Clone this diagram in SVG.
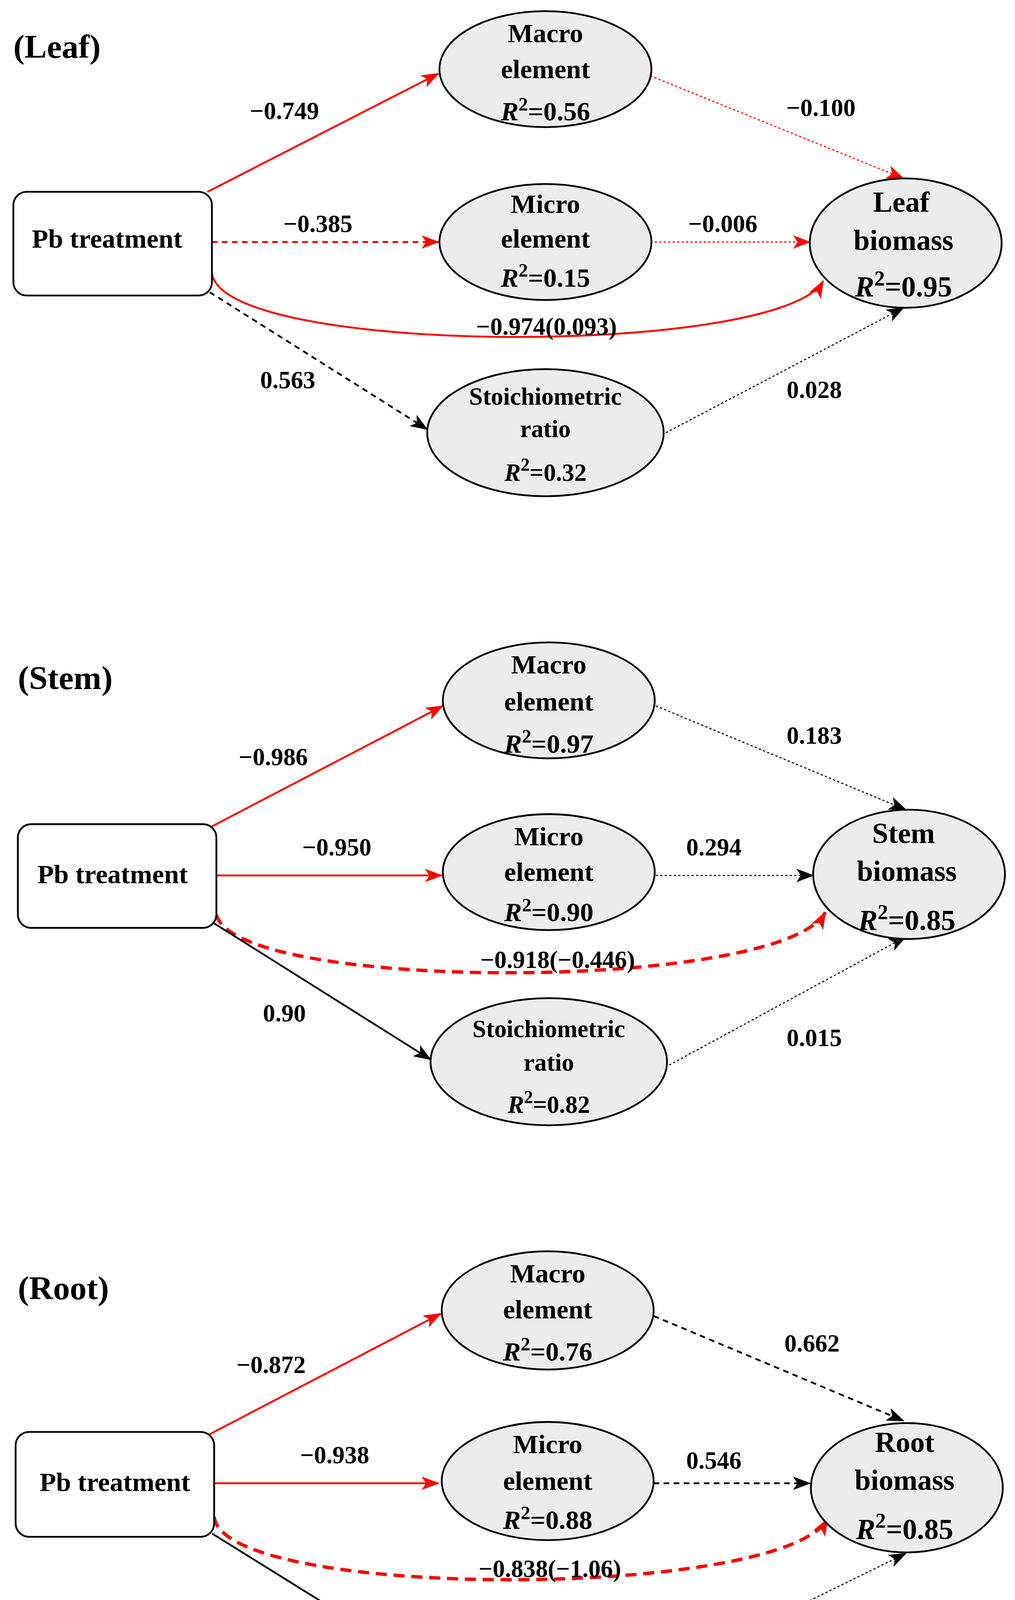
<svg xmlns="http://www.w3.org/2000/svg" width="2598" height="4483" viewBox="0 0 2598 4483">
<style>
text{font-family:"Liberation Serif","Times New Roman",serif;font-weight:bold;fill:#000;text-anchor:middle}
.n{font-size:24px}.b{font-size:26px}.s{font-size:22px}.l{font-size:22px}.p{font-size:30px;text-anchor:start}
.el{fill:#ececec;stroke:#000;stroke-width:1.6}
.bx{fill:#fff;stroke:#000;stroke-width:1.6}
.r{stroke:#f00;fill:none;stroke-width:1.7}
.k{stroke:#000;fill:none;stroke-width:1.6}
.ds{stroke-dasharray:5 4}.dt{stroke-dasharray:2 2;stroke-width:1}.th{stroke-width:3;stroke-dasharray:10 6}
</style>
<defs>
<marker id="ar" viewBox="0 0 16 12" refX="15" refY="6" markerWidth="16" markerHeight="12" markerUnits="userSpaceOnUse" orient="auto"><path d="M0,0 L16,6 L0,12 L4,6 Z" fill="#f00"/></marker>
<marker id="ak" viewBox="0 0 16 12" refX="15" refY="6" markerWidth="16" markerHeight="12" markerUnits="userSpaceOnUse" orient="auto"><path d="M0,0 L16,6 L0,12 L4,6 Z" fill="#000"/></marker>
</defs>
<rect width="2598" height="4483" fill="#fff"/>
<g transform="scale(2.855)">
<text class="p" x="12" y="52">(Leaf)</text>
<g id="connectors-leaf">
<path class="r" d="M186,172 L393,66" marker-end="url(#ar)"/>
<path class="r ds" d="M190,217 L393,217" marker-end="url(#ar)"/>
<path class="r" d="M190,245 C200,320 700,320 738,252" marker-end="url(#ar)"/>
<path class="k ds" d="M188,262 L383,385" marker-end="url(#ak)"/>
<path class="r dt" d="M583,68 L810,160" marker-end="url(#ar)"/>
<path class="r dt" d="M583,217 L726,217" marker-end="url(#ar)"/>
<path class="k dt" d="M597,388 L810,276" marker-end="url(#ak)"/>
<text class="l" x="255" y="107">−0.749</text>
<text class="l" x="285" y="208">−0.385</text>
<text class="l" x="490" y="300">−0.974(0.093)</text>
<text class="l" x="258" y="348">0.563</text>
<text class="l" x="736" y="104">−0.100</text>
<text class="l" x="648" y="208">−0.006</text>
<text class="l" x="730" y="357">0.028</text>
</g>
<g id="leaf-pb"><rect class="bx" x="12" y="172" width="178" height="93" rx="12"/><text class="n" x="96" y="222">Pb treatment</text></g>
<g id="leaf-macro"><ellipse class="el" cx="489" cy="62" rx="95" ry="52"/><text class="n" x="489" y="38">Macro</text><text class="n" x="489" y="70">element</text><text class="n" x="489" y="108"><tspan font-style="italic">R</tspan><tspan dy="-9" font-size="17">2</tspan><tspan dy="9">=0.56</tspan></text></g>
<g id="leaf-micro"><ellipse class="el" cx="489" cy="217" rx="95" ry="52"/><text class="n" x="489" y="191">Micro</text><text class="n" x="489" y="222">element</text><text class="n" x="489" y="257"><tspan font-style="italic">R</tspan><tspan dy="-9" font-size="17">2</tspan><tspan dy="9">=0.15</tspan></text></g>
<g id="leaf-stoich"><ellipse class="el" cx="489" cy="388" rx="106" ry="57"/><text class="s" x="489" y="363">Stoichiometric</text><text class="s" x="489" y="392">ratio</text><text class="s" x="489" y="431"><tspan font-style="italic">R</tspan><tspan dy="-9" font-size="16">2</tspan><tspan dy="9">=0.32</tspan></text></g>
<g id="leaf-biomass"><ellipse class="el" cx="812" cy="218" rx="86" ry="58" stroke="#444"/><text class="b" x="808" y="190">Leaf</text><text class="b" x="810" y="224">biomass</text><text class="b" x="810" y="266"><tspan font-style="italic">R</tspan><tspan dy="-10" font-size="19">2</tspan><tspan dy="10">=0.95</tspan></text></g>

<text class="p" x="16" y="618">(Stem)</text>
<g id="connectors-stem">
<path class="r" d="M190,741 L397,633" marker-end="url(#ar)"/>
<path class="r" d="M194,785 L396,785" marker-end="url(#ar)"/>
<path class="r th" d="M194,820 C210,890 700,890 740,818" marker-end="url(#ar)"/>
<path class="k" d="M192,828 L386,950" marker-end="url(#ak)"/>
<path class="k dt" d="M588,633 L812,726" marker-end="url(#ak)"/>
<path class="k dt" d="M588,785 L729,785" marker-end="url(#ak)"/>
<path class="k dt" d="M600,955 L812,840" marker-end="url(#ak)"/>
<text class="l" x="245" y="686">−0.986</text>
<text class="l" x="302" y="767">−0.950</text>
<text class="l" x="500" y="868">−0.918(−0.446)</text>
<text class="l" x="255" y="916">0.90</text>
<text class="l" x="730" y="667">0.183</text>
<text class="l" x="640" y="767">0.294</text>
<text class="l" x="730" y="938">0.015</text>
</g>
<g id="stem-pb"><rect class="bx" x="16" y="739" width="178" height="93" rx="12"/><text class="n" x="101" y="792">Pb treatment</text></g>
<g id="stem-macro"><ellipse class="el" cx="492" cy="628" rx="95" ry="52"/><text class="n" x="492" y="604">Macro</text><text class="n" x="492" y="637">element</text><text class="n" x="492" y="675"><tspan font-style="italic">R</tspan><tspan dy="-9" font-size="17">2</tspan><tspan dy="9">=0.97</tspan></text></g>
<g id="stem-micro"><ellipse class="el" cx="492" cy="782" rx="95" ry="52"/><text class="n" x="492" y="758">Micro</text><text class="n" x="492" y="790">element</text><text class="n" x="492" y="826"><tspan font-style="italic">R</tspan><tspan dy="-9" font-size="17">2</tspan><tspan dy="9">=0.90</tspan></text></g>
<g id="stem-stoich"><ellipse class="el" cx="492" cy="952" rx="106" ry="57"/><text class="s" x="492" y="930">Stoichiometric</text><text class="s" x="492" y="960">ratio</text><text class="s" x="492" y="998"><tspan font-style="italic">R</tspan><tspan dy="-9" font-size="16">2</tspan><tspan dy="9">=0.82</tspan></text></g>
<g id="stem-biomass"><ellipse class="el" cx="815" cy="784" rx="86" ry="58" stroke="#444"/><text class="b" x="810" y="756">Stem</text><text class="b" x="813" y="790">biomass</text><text class="b" x="813" y="834"><tspan font-style="italic">R</tspan><tspan dy="-10" font-size="19">2</tspan><tspan dy="10">=0.85</tspan></text></g>

<text class="p" x="16" y="1165">(Root)</text>
<g id="connectors-root">
<path class="r" d="M188,1286 L395,1178" marker-end="url(#ar)"/>
<path class="r" d="M192,1330 L393,1330" marker-end="url(#ar)"/>
<path class="r th" d="M192,1360 C200,1435 700,1435 742,1362" marker-end="url(#ar)"/>
<path class="k" d="M190,1375 L386,1497" marker-end="url(#ak)"/>
<path class="k ds" d="M586,1180 L810,1274" marker-end="url(#ak)"/>
<path class="k ds" d="M586,1330 L726,1330" marker-end="url(#ak)"/>
<path class="k dt" d="M600,1497 L812,1393" marker-end="url(#ak)"/>
<text class="l" x="243" y="1231">−0.872</text>
<text class="l" x="300" y="1312">−0.938</text>
<text class="l" x="493" y="1414">−0.838(−1.06)</text>
<text class="l" x="238" y="1462">0.778</text>
<text class="l" x="728" y="1212">0.662</text>
<text class="l" x="640" y="1317">0.546</text>
<text class="l" x="728" y="1483">0.035</text>
</g>
<g id="root-pb"><rect class="bx" x="14" y="1284" width="178" height="94" rx="12"/><text class="n" x="103" y="1337">Pb treatment</text></g>
<g id="root-macro"><ellipse class="el" cx="491" cy="1175" rx="95" ry="53"/><text class="n" x="491" y="1150">Macro</text><text class="n" x="491" y="1182">element</text><text class="n" x="491" y="1220"><tspan font-style="italic">R</tspan><tspan dy="-9" font-size="17">2</tspan><tspan dy="9">=0.76</tspan></text></g>
<g id="root-micro"><ellipse class="el" cx="491" cy="1328" rx="95" ry="53"/><text class="n" x="491" y="1303">Micro</text><text class="n" x="491" y="1336">element</text><text class="n" x="491" y="1371"><tspan font-style="italic">R</tspan><tspan dy="-9" font-size="17">2</tspan><tspan dy="9">=0.88</tspan></text></g>
<g id="root-stoich"><ellipse class="el" cx="492" cy="1497" rx="105" ry="57"/><text class="s" x="492" y="1477">Stoichiometric</text><text class="s" x="492" y="1506">ratio</text><text class="s" x="492" y="1544"><tspan font-style="italic">R</tspan><tspan dy="-9" font-size="16">2</tspan><tspan dy="9">=0.60</tspan></text></g>
<g id="root-biomass"><ellipse class="el" cx="813" cy="1334" rx="86" ry="58" stroke="#444"/><text class="b" x="811" y="1302">Root</text><text class="b" x="811" y="1336">biomass</text><text class="b" x="811" y="1380"><tspan font-style="italic">R</tspan><tspan dy="-10" font-size="19">2</tspan><tspan dy="10">=0.85</tspan></text></g>
</g>
</svg>
